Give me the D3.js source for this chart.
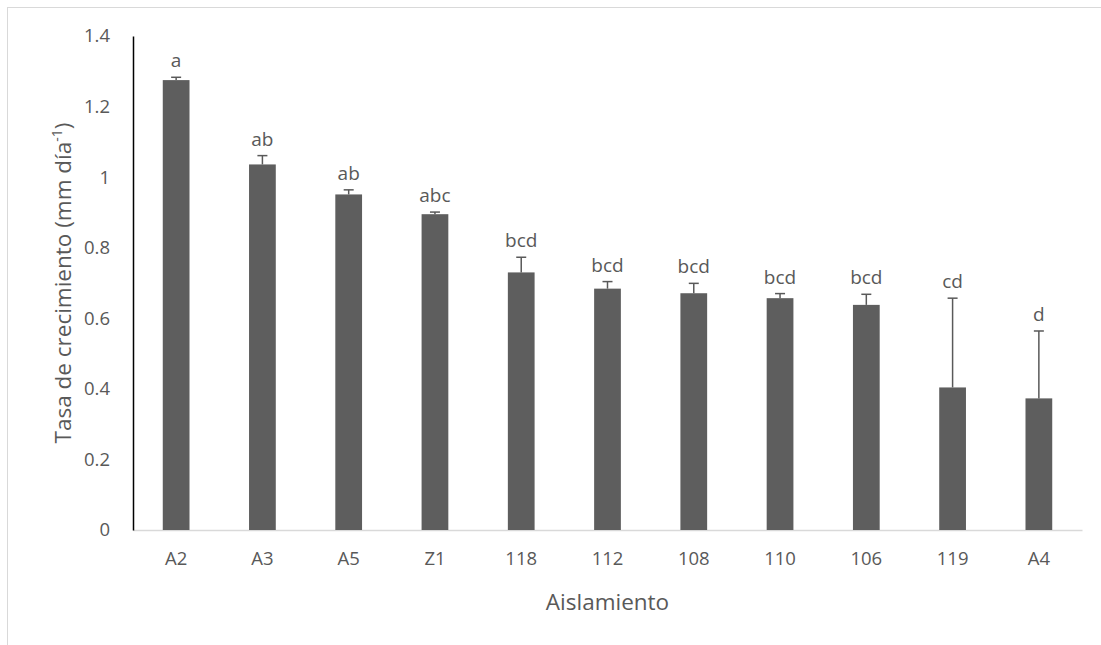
<!DOCTYPE html>
<html><head><meta charset="utf-8">
<script src="https://cdn.jsdelivr.net/npm/d3@7"></script>
<style>body{margin:0;background:#fff}svg{display:block}text{font-family:"Open Sans",sans-serif;fill:#595959}</style>
</head><body><svg id="c" width="1101" height="645"></svg>
<script>
const categories = ["A2","A3","A5","Z1","118","112","108","110","106","119","A4"];
const values = [1.275,1.036,0.951,0.895,0.730,0.684,0.671,0.657,0.638,0.404,0.373];
const errors = [0.008,0.025,0.013,0.006,0.043,0.020,0.028,0.013,0.030,0.253,0.191];
const letters = ["a","ab","ab","abc","bcd","bcd","bcd","bcd","bcd","cd","d"];
const yTicks = [0,0.2,0.4,0.6,0.8,1,1.2,1.4];

const svg = d3.select("#c");
const L = 133, R = 1082, T = 36, B = 530;
svg.append("line").attr("x1",7).attr("x2",1101).attr("y1",7.5).attr("y2",7.5).attr("stroke","#d9d9d9");
svg.append("line").attr("x1",7.5).attr("x2",7.5).attr("y1",7).attr("y2",645).attr("stroke","#d9d9d9");

const x = d3.scaleBand().domain(categories).range([L,R]).paddingInner(0.69).paddingOuter(0.345);
const y = d3.scaleLinear().domain([0,1.4]).range([B,T]);

svg.append("g").attr("transform",`translate(0,${B})`)
  .call(d3.axisBottom(x).tickSize(0).tickPadding(22))
  .call(g=>{g.select(".domain").attr("stroke","#d9d9d9").attr("stroke-width",1.5);
    g.selectAll("text").style("font-size","18.5px").attr("fill","#595959").attr("font-family","Open Sans");});

svg.append("g").attr("transform",`translate(${L},0)`)
  .call(d3.axisLeft(y).tickValues(yTicks).tickSize(0).tickPadding(23).tickFormat(d=>String(d)))
  .call(g=>{g.select(".domain").attr("stroke","#000").attr("stroke-width",1.5);
    g.selectAll("text").style("font-size","18.5px").attr("fill","#595959").attr("font-family","Open Sans");});

svg.append("g").selectAll("rect").data(categories).join("rect")
  .attr("x",d=>x(d)).attr("width",x.bandwidth())
  .attr("y",(d,i)=>y(values[i])).attr("height",(d,i)=>B-y(values[i]))
  .attr("fill","#5e5e5e");

const eb = svg.append("g").attr("stroke","#595959").attr("stroke-width",1.5);
categories.forEach((c,i)=>{
  const cx = x(c)+x.bandwidth()/2, top = y(values[i]+errors[i]);
  eb.append("line").attr("x1",cx).attr("x2",cx).attr("y1",y(values[i])).attr("y2",top);
  eb.append("line").attr("x1",cx-5).attr("x2",cx+5).attr("y1",top).attr("y2",top);
});

svg.append("g").selectAll("text").data(categories).join("text")
  .attr("x",d=>x(d)+x.bandwidth()/2)
  .attr("y",(d,i)=>y(values[i]+errors[i])-10)
  .attr("text-anchor","middle").style("font-size","19px").attr("fill","#404040")
  .text((d,i)=>letters[i]);

svg.append("text").attr("x",(L+R)/2).attr("y",610).attr("text-anchor","middle")
  .style("font-size","22.5px").text("Aislamiento");
const yt = svg.append("text").attr("transform",`translate(71,${(T+B)/2}) rotate(-90)`)
  .attr("text-anchor","middle").style("font-size","22.5px");
yt.append("tspan").text("Tasa de crecimiento (mm día");
yt.append("tspan").attr("baseline-shift","super").style("font-size","14px").text("-1");
yt.append("tspan").text(")");
</script></body></html>
